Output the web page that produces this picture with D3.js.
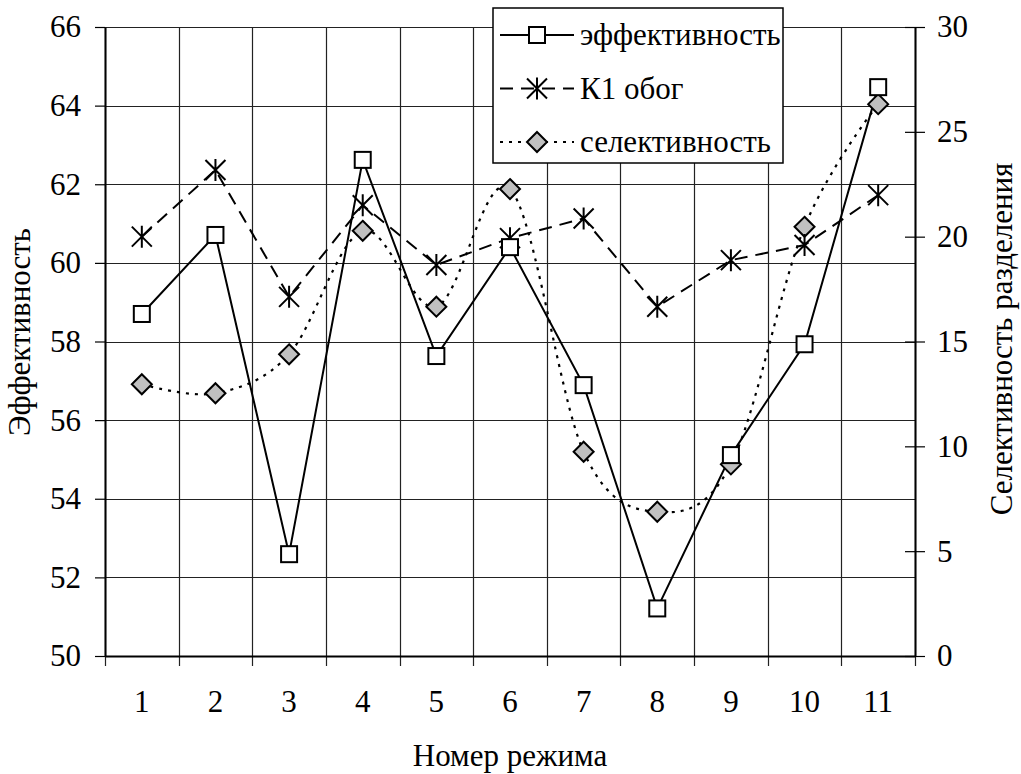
<!DOCTYPE html>
<html>
<head>
  <meta charset="utf-8">
  <title>Эффективность и селективность по режимам</title>
  <script src="https://d3js.org/d3.v7.min.js"></script>
  <style>
    body { margin: 0; background: #fff; }
  </style>
</head>
<body>
  <svg id="main-svg"></svg>

  <script type="text/javascript">
    // data
    var modes = ["1", "2", "3", "4", "5", "6", "7", "8", "9", "10", "11"];
    var efficiency = [58.70, 60.71, 52.59, 62.62, 57.63, 60.40, 56.89, 51.21, 55.11, 57.93, 64.47];
    var k1 = [20.0, 23.18, 17.13, 21.5, 18.65, 19.93, 20.87, 16.66, 18.88, 19.6, 21.98];
    var selectivity = [12.96, 12.53, 14.39, 20.28, 16.66, 22.27, 9.74, 6.88, 9.14, 20.47, 26.32];
    var leftTicks = [50, 52, 54, 56, 58, 60, 62, 64, 66];
    var rightTicks = [0, 5, 10, 15, 20, 25, 30];
    var legendNames = ["эффективность", "К1 обог", "селективность"];

    const svg_width = 1021;
    const svg_height = 774;

    var plot = { left: 105, right: 915, top: 27, bottom: 656 };
    var fontSize = 31;
    var serif = "'Liberation Serif'";

    var svg = d3.select("#main-svg")
      .attr("width", svg_width)
      .attr("height", svg_height)
      .style("font-family", serif);

    var x = d3.scaleBand()
      .domain(modes)
      .range([plot.left, plot.right]);

    var yLeft = d3.scaleLinear()
      .domain([50, 66])
      .range([plot.bottom, plot.top]);

    var yRight = d3.scaleLinear()
      .domain([0, 30])
      .range([plot.bottom, plot.top]);

    // grid
    var grid = svg.append("g").attr("class", "grid");

    grid.selectAll(".hgrid")
      .data(leftTicks)
      .enter().append("line")
      .attr("x1", plot.left)
      .attr("x2", plot.right)
      .attr("y1", function(d) { return Math.round(yLeft(d)) + 0.5; })
      .attr("y2", function(d) { return Math.round(yLeft(d)) + 0.5; })
      .attr("stroke", "#222")
      .attr("stroke-width", 1.2);

    var boundaries = modes.map(function(d) { return x(d); }).concat([plot.right]);

    grid.selectAll(".vgrid")
      .data(boundaries)
      .enter().append("line")
      .attr("x1", function(d) { return Math.round(d) + 0.5; })
      .attr("x2", function(d) { return Math.round(d) + 0.5; })
      .attr("y1", plot.top)
      .attr("y2", plot.bottom + 10)
      .attr("stroke", "#222")
      .attr("stroke-width", 1.2);

    // left axis
    var leftAxis = svg.append("g")
      .attr("transform", "translate(" + plot.left + ",0)")
      .call(d3.axisLeft(yLeft).tickValues(leftTicks).tickSize(10).tickPadding(14).tickSizeOuter(0));

    // right axis, ticks cross the line
    var rightAxis = svg.append("g")
      .attr("transform", "translate(" + plot.right + ",0)")
      .call(d3.axisRight(yRight).tickValues(rightTicks).tickSize(10).tickPadding(12).tickSizeOuter(0));
    rightAxis.selectAll(".tick line").attr("x1", -10);

    // bottom axis: labels at band centres
    var bottomAxis = svg.append("g")
      .attr("transform", "translate(0," + plot.bottom + ")")
      .call(d3.axisBottom(x).tickSize(0).tickPadding(34).tickSizeOuter(0));

    [leftAxis, rightAxis, bottomAxis].forEach(function(g) {
      g.attr("font-family", null).attr("font-size", null);
      g.select(".domain").attr("stroke", "#000").attr("stroke-width", 2);
      g.selectAll(".tick line").attr("stroke", "#000").attr("stroke-width", 1.2);
      g.selectAll(".tick text")
        .attr("fill", "#000")
        .style("font-family", serif)
        .style("font-size", fontSize + "px");
    });

    // axis titles
    svg.append("text")
      .attr("transform", "translate(30,332) rotate(-90)")
      .attr("text-anchor", "middle")
      .style("font-family", serif)
      .style("font-size", fontSize + "px")
      .text("Эффективность");

    svg.append("text")
      .attr("transform", "translate(1012,339) rotate(-90)")
      .attr("text-anchor", "middle")
      .style("font-family", serif)
      .style("font-size", fontSize + "px")
      .text("Селективность разделения");

    svg.append("text")
      .attr("x", (plot.left + plot.right) / 2)
      .attr("y", 766)
      .attr("text-anchor", "middle")
      .style("font-family", serif)
      .style("font-size", fontSize + "px")
      .text("Номер режима");

    // series
    var cx = function(d, i) { return x(modes[i]) + x.bandwidth() / 2; };

    var lineEff = d3.line()
      .x(cx)
      .y(function(d) { return yLeft(d); });

    var lineK1 = d3.line()
      .x(cx)
      .y(function(d) { return yRight(d); });

    var lineSel = d3.line()
      .x(cx)
      .y(function(d) { return yRight(d); })
      .curve(d3.curveCatmullRom.alpha(0));

    var series = svg.append("g").attr("class", "series");

    series.append("path")
      .datum(selectivity)
      .attr("d", lineSel)
      .attr("fill", "none")
      .attr("stroke", "#000")
      .attr("stroke-width", 2.2)
      .attr("stroke-dasharray", "3,6");

    series.append("path")
      .datum(k1)
      .attr("d", lineK1)
      .attr("fill", "none")
      .attr("stroke", "#000")
      .attr("stroke-width", 2)
      .attr("stroke-dasharray", "13,8");

    series.append("path")
      .datum(efficiency)
      .attr("d", lineEff)
      .attr("fill", "none")
      .attr("stroke", "#000")
      .attr("stroke-width", 2);

    function drawSquare(g) {
      g.append("rect")
        .attr("x", -8).attr("y", -8)
        .attr("width", 16).attr("height", 16)
        .attr("fill", "#fff")
        .attr("stroke", "#000")
        .attr("stroke-width", 2);
    }

    function drawStar(g) {
      g.append("path")
        .attr("d", "M-10,-10L10,10M-10,10L10,-10M0,-11L0,11")
        .attr("fill", "none")
        .attr("stroke", "#000")
        .attr("stroke-width", 2);
    }

    function drawDiamond(g) {
      g.append("path")
        .attr("d", "M0,-10L10,0L0,10L-10,0Z")
        .attr("fill", "#c0c0c0")
        .attr("stroke", "#000")
        .attr("stroke-width", 2);
    }

    series.selectAll(".sel-pt")
      .data(selectivity)
      .enter().append("g")
      .attr("transform", function(d, i) { return "translate(" + cx(d, i) + "," + yRight(d) + ")"; })
      .each(function() { drawDiamond(d3.select(this)); });

    series.selectAll(".k1-pt")
      .data(k1)
      .enter().append("g")
      .attr("transform", function(d, i) { return "translate(" + cx(d, i) + "," + yRight(d) + ")"; })
      .each(function() { drawStar(d3.select(this)); });

    series.selectAll(".eff-pt")
      .data(efficiency)
      .enter().append("g")
      .attr("transform", function(d, i) { return "translate(" + cx(d, i) + "," + yLeft(d) + ")"; })
      .each(function() { drawSquare(d3.select(this)); });

    // legend
    var legend = svg.append("g")
      .attr("transform", "translate(493,8)");

    legend.append("rect")
      .attr("x", 0).attr("y", 0)
      .attr("width", 290).attr("height", 155)
      .attr("fill", "#fff")
      .attr("stroke", "#000")
      .attr("stroke-width", 1.5);

    var rows = [
      { dash: null, marker: drawSquare },
      { dash: "13,8", marker: drawStar },
      { dash: "3,6", marker: drawDiamond }
    ];

    var row = legend.selectAll(".legend")
      .data(legendNames)
      .enter().append("g")
      .attr("class", "legend")
      .attr("transform", function(d, i) { return "translate(0," + (27 + i * 53.5) + ")"; });

    row.append("line")
      .attr("x1", 7).attr("x2", 81)
      .attr("y1", 0).attr("y2", 0)
      .attr("stroke", "#000")
      .attr("stroke-width", 2)
      .attr("stroke-dasharray", function(d, i) { return rows[i].dash; });

    row.append("g")
      .attr("transform", "translate(44,0)")
      .each(function(d, i) { rows[i].marker(d3.select(this)); });

    row.append("text")
      .attr("x", 87)
      .attr("y", 0)
      .attr("dy", "0.33em")
      .style("font-family", serif)
      .style("font-size", fontSize + "px")
      .text(function(d) { return d; });
  </script>
</body>
</html>
